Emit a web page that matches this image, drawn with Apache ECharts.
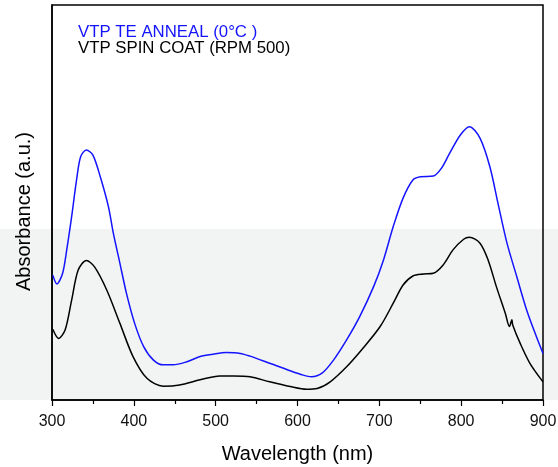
<!DOCTYPE html>
<html>
<head>
<meta charset="utf-8">
<script src="https://cdn.jsdelivr.net/npm/echarts@6/dist/echarts.min.js"></script>
<style>
  html, body { margin: 0; padding: 0; background: #fff; }
  #chart { width: 558px; height: 467px; }
</style>
</head>
<body>
<div id="chart"></div>
<script>
// values (absorbance in arbitrary units)
const annealWl = [301, 306, 313, 318, 324, 330, 335, 342, 350, 359, 369, 375, 383, 391, 401, 412, 424, 436, 448, 465, 481, 497, 513, 530, 542, 566, 591, 607, 617, 630, 644, 660, 676, 693, 705, 717, 729, 741, 750, 766, 776, 786, 799, 810, 823, 835, 845, 856, 868, 880, 892, 900];
const annealAbs = [0.316, 0.294, 0.321, 0.380, 0.464, 0.557, 0.616, 0.633, 0.620, 0.565, 0.489, 0.422, 0.346, 0.270, 0.194, 0.135, 0.101, 0.089, 0.089, 0.097, 0.110, 0.116, 0.120, 0.118, 0.111, 0.093, 0.074, 0.063, 0.059, 0.068, 0.101, 0.152, 0.211, 0.287, 0.354, 0.439, 0.511, 0.557, 0.565, 0.567, 0.587, 0.625, 0.671, 0.692, 0.663, 0.591, 0.498, 0.397, 0.312, 0.228, 0.160, 0.118];

const spinWl = [301, 308, 316, 324, 332, 342, 352, 367, 383, 399, 416, 436, 456, 481, 505, 522, 542, 566, 591, 611, 624, 640, 660, 680, 701, 717, 729, 741, 754, 766, 778, 790, 803, 810, 823, 833, 843, 854, 859, 862, 863, 872, 884, 900];
const spinAbs = [0.179, 0.156, 0.177, 0.253, 0.329, 0.353, 0.337, 0.278, 0.194, 0.110, 0.055, 0.035, 0.038, 0.051, 0.061, 0.061, 0.059, 0.046, 0.034, 0.027, 0.029, 0.046, 0.084, 0.131, 0.186, 0.245, 0.291, 0.314, 0.319, 0.321, 0.342, 0.380, 0.407, 0.412, 0.397, 0.354, 0.287, 0.219, 0.186, 0.203, 0.190, 0.144, 0.093, 0.046];

const seriesNames = ["VTP TE ANNEAL (0°C )", "VTP SPIN COAT (RPM 500)"];
const seriesColors = ["#1414ff", "#000000"];

const pairs = (xs, ys) => xs.map((x, i) => [x, ys[i]]);

const chart = echarts.init(document.getElementById("chart"));
const font = "Liberation Sans, Arial, sans-serif";

chart.setOption({
  animation: false,
  textStyle: { fontFamily: font },
  graphic: [{
    type: "rect", z: -10, silent: true,
    shape: { x: 0, y: 229, width: 558, height: 171 },
    style: { fill: "#f2f3f3" }
  }],
  grid: { left: 52, right: 15, top: 5, bottom: 67, outerBoundsMode: "none",
    show: true, borderColor: "#000", borderWidth: 1.5 },
  legend: {
    orient: "vertical", left: 68, top: 19,
    icon: "none", itemWidth: 0, itemHeight: 10, itemGap: -1,
    textStyle: { fontSize: 16.8, lineHeight: 15, fontFamily: font },
    data: seriesNames.map((n, i) => ({ name: n, textStyle: { color: seriesColors[i] } }))
  },
  xAxis: {
    type: "value", min: 300, max: 900, interval: 100,
    name: "Wavelength (nm)", nameLocation: "middle", nameGap: 44,
    nameTextStyle: { fontSize: 20, color: "#000", fontFamily: font },
    axisLine: { lineStyle: { color: "#000", width: 1.5 } },
    axisTick: { length: 6, lineStyle: { color: "#000", width: 1.2 } },
    minorTick: { show: true, splitNumber: 2, length: 4, lineStyle: { color: "#000", width: 1.2 } },
    axisLabel: { fontSize: 16, color: "#111", margin: 14, fontFamily: font },
    splitLine: { show: false }
  },
  yAxis: {
    type: "value", min: 0, max: 1,
    name: "Absorbance (a.u.)", nameLocation: "middle", nameGap: 18,
    nameTextStyle: { fontSize: 20, color: "#000", fontFamily: font, padding: [0, 18, 0, 0] },
    axisLine: { show: true, lineStyle: { color: "#000", width: 1.5 } },
    axisTick: { show: false },
    axisLabel: { show: false },
    splitLine: { show: false }
  },
  series: [
    { name: seriesNames[0], type: "line", data: pairs(annealWl, annealAbs), smooth: 0.3, showSymbol: false,
      lineStyle: { color: seriesColors[0], width: 1.5 }, itemStyle: { color: seriesColors[0] } },
    { name: seriesNames[1], type: "line", data: pairs(spinWl, spinAbs), smooth: 0.3, showSymbol: false,
      lineStyle: { color: seriesColors[1], width: 1.5 }, itemStyle: { color: seriesColors[1] } }
  ]
});
</script>
</body>
</html>
